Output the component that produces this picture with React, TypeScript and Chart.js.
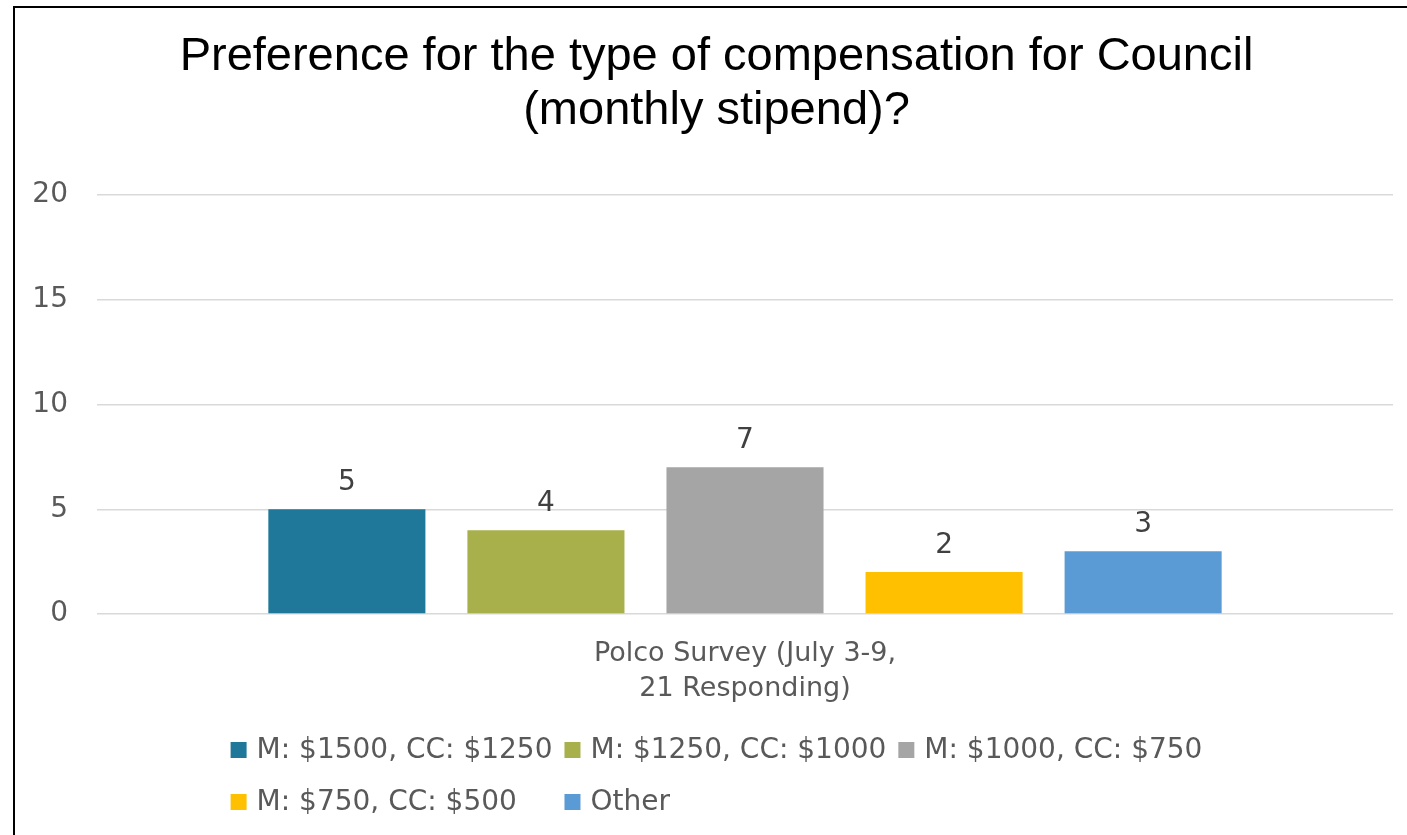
import React, { useEffect, useRef } from "react";
import { Chart, registerables } from "chart.js";

Chart.register(...registerables);

const TITLE_LINES = ["Preference for the type of compensation for Council", "(monthly stipend)?"];
const CATEGORY_LINES = ["Polco Survey (July 3-9,", "21 Responding)"];
const SERIES_NAMES = [
  "M: $1500, CC: $1250",
  "M: $1250, CC: $1000",
  "M: $1000, CC: $750",
  "M: $750, CC: $500",
  "Other",
];
const SERIES_VALUES = [5, 4, 7, 2, 3];
const SERIES_COLORS = ["#1F7799", "#A7B04A", "#A5A5A5", "#FFC000", "#5B9BD5"];
const Y_MIN = 0;
const Y_MAX = 20;
const Y_STEP = 5;
const LEGEND_COLUMNS = 3;

const FONT = '"DejaVu Sans", "Liberation Sans", sans-serif';

const centerTitlePlugin = {
  id: "centerTitle",
  afterLayout(chart: any) {
    const t = chart.titleBlock;
    if (t) {
      t.left = 0;
      t.right = chart.width;
      t.width = chart.width;
    }
  },
};

const dataLabelPlugin = {
  id: "dataLabels",
  afterDatasetsDraw(chart: any) {
    const ctx = chart.ctx;
    ctx.save();
    ctx.font = `28px ${FONT}`;
    ctx.fillStyle = "#404040";
    ctx.textAlign = "center";
    ctx.textBaseline = "alphabetic";
    chart.data.datasets.forEach((ds: any, i: number) => {
      const meta = chart.getDatasetMeta(i);
      meta.data.forEach((bar: any, j: number) => {
        ctx.fillText(String(ds.data[j]), bar.x, bar.y - 19);
      });
    });
    ctx.restore();
  },
};

const gridLegendPlugin = {
  id: "gridLegend",
  afterDraw(chart: any) {
    const ctx = chart.ctx;
    ctx.save();
    ctx.font = `28px ${FONT}`;
    const items = chart.data.datasets.map((d: any) => ({ label: d.label, color: d.backgroundColor }));
    const sw = 16;
    const gap = 10;
    const itemGap = 12;
    const widths = items.map((it: any) => sw + gap + ctx.measureText(it.label).width + itemGap);
    const colW: number[] = [];
    items.forEach((_: any, i: number) => {
      const c = i % LEGEND_COLUMNS;
      colW[c] = Math.max(colW[c] || 0, widths[i]);
    });
    const total = colW.reduce((a, b) => a + b, 0) - itemGap;
    const startX = (chart.width - total) / 2;
    const firstY = chart.chartArea.bottom + 136;
    const rowH = 52;
    ctx.textAlign = "left";
    ctx.textBaseline = "middle";
    items.forEach((it: any, i: number) => {
      const c = i % LEGEND_COLUMNS;
      const r = Math.floor(i / LEGEND_COLUMNS);
      let x = startX;
      for (let k = 0; k < c; k++) x += colW[k];
      const y = firstY + r * rowH;
      ctx.fillStyle = it.color;
      ctx.fillRect(x, y - sw / 2, sw, sw);
      ctx.fillStyle = "#595959";
      ctx.fillText(it.label, x + sw + gap, y + 1);
    });
    ctx.restore();
  },
};

export default function App() {
  const canvasRef = useRef<HTMLCanvasElement | null>(null);

  useEffect(() => {
    if (!canvasRef.current) return;
    const chart = new Chart(canvasRef.current, {
      type: "bar",
      data: {
        labels: [CATEGORY_LINES],
        datasets: SERIES_NAMES.map((name, i) => ({
          label: name,
          data: [SERIES_VALUES[i]],
          backgroundColor: SERIES_COLORS[i],
          borderWidth: 0,
          categoryPercentage: 0.768,
          barPercentage: 0.789,
        })),
      },
      options: {
        animation: false,
        responsive: false,
        maintainAspectRatio: false,
        layout: { padding: { top: 0, left: 0, right: 25, bottom: 121 } },
        plugins: {
          legend: { display: false },
          tooltip: { enabled: false },
          title: {
            display: true,
            text: TITLE_LINES,
            color: "#000000",
            font: { family: '"Liberation Sans", Arial, sans-serif', size: 47, weight: "normal", lineHeight: 54 / 47 },
            padding: { top: 22, bottom: 57 },
          },
        },
        scales: {
          x: {
            grid: { display: false, drawTicks: false },
            border: { display: false },
            ticks: {
              color: "#595959",
              font: { family: FONT, size: 27, lineHeight: 35 / 27 },
              padding: 22,
              maxRotation: 0,
            },
            afterFit: (scale: any) => {
              scale.height = 100;
            },
          },
          y: {
            min: Y_MIN,
            max: Y_MAX,
            ticks: {
              stepSize: Y_STEP,
              color: "#595959",
              font: { family: FONT, size: 28 },
              padding: 29,
            },
            grid: { color: "#D9D9D9", lineWidth: 1.5, drawTicks: false },
            border: { display: false },
            afterFit: (scale: any) => {
              scale.width = 82;
            },
          },
        },
      },
      plugins: [centerTitlePlugin, dataLabelPlugin, gridLegendPlugin],
    });
    return () => chart.destroy();
  }, []);

  return (
    <div style={{ position: "fixed", left: 0, top: 0, width: "100vw", height: "100vh", overflow: "hidden", background: "#fff" }}>
      <div
        style={{
          position: "absolute",
          left: 13,
          top: 6,
          borderLeft: "2px solid #000",
          borderTop: "2px solid #000",
          width: 1403,
          height: 840,
        }}
      >
        <canvas ref={canvasRef} width={1403} height={827} style={{ display: "block", width: 1403, height: 827 }} />
      </div>
    </div>
  );
}
